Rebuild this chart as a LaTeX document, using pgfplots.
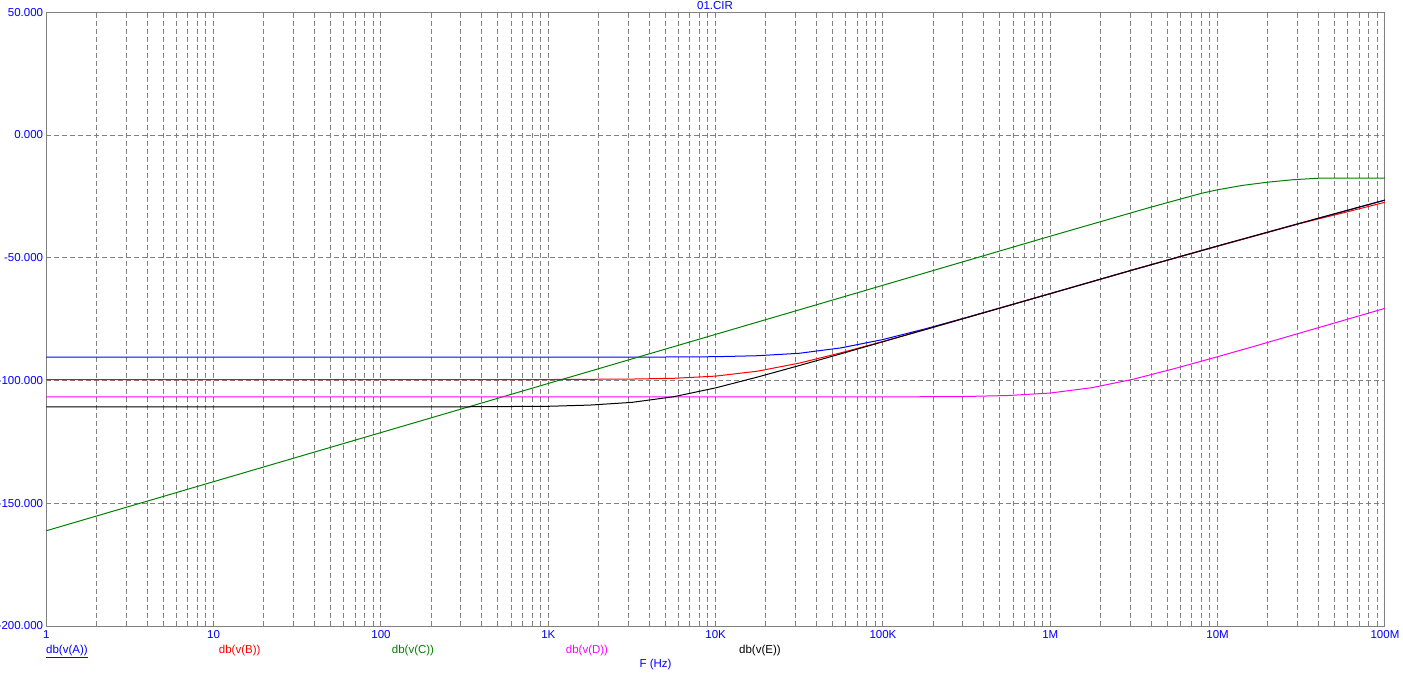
\documentclass[border=0pt]{standalone}
\usepackage{fontspec}
\setmainfont{Liberation Sans}
\usepackage{pgfplots}
\pgfplotsset{compat=1.18}
\definecolor{mcblue}{RGB}{0,0,255}
\definecolor{mcred}{RGB}{255,0,0}
\definecolor{mcgreen}{RGB}{0,128,0}
\definecolor{mcmag}{RGB}{255,0,255}
\definecolor{mcgrid}{RGB}{128,128,128}
\newcommand{\fs}{\fontsize{11.5}{13}\selectfont}
\begin{document}
\begin{tikzpicture}[x=1pt,y=1pt]
\begin{axis}[
  at={(0,0)}, anchor=south west,
  scale only axis, width=1338.7pt, height=613.7pt,
  xmode=log, log basis x=10,
  xmin=1, xmax=1e8, ymin=-200, ymax=50,
  xtick={1,10,100,1000,1e4,1e5,1e6,1e7,1e8},
  xticklabels={1,10,100,1K,10K,100K,1M,10M,100M},
  minor xtick={2,3,4,5,6,7,8,9,20,30,40,50,60,70,80,90,200,300,400,500,600,700,800,900,2000,3000,4000,5000,6000,7000,8000,9000,2e4,3e4,4e4,5e4,6e4,7e4,8e4,9e4,2e5,3e5,4e5,5e5,6e5,7e5,8e5,9e5,2e6,3e6,4e6,5e6,6e6,7e6,8e6,9e6,2e7,3e7,4e7,5e7,6e7,7e7,8e7,9e7},
  ytick={-200,-150,-100,-50,0,50},
  yticklabels={-200.000,-150.000,-100.000,-50.000,0.000,50.000},
  major tick length=0pt, minor tick length=0pt,
  xmajorgrids, xminorgrids, ymajorgrids,
  grid style={mcgrid, line width=1pt, dash pattern=on 5pt off 3pt},
  major grid style={mcgrid, line width=1pt, dash pattern=on 5pt off 3pt},
  minor grid style={mcgrid, line width=1pt, dash pattern=on 5pt off 3pt},
  axis line style={mcgrid, line width=1pt},
  ticklabel style={font=\fs, text=mcblue, inner sep=0pt},
  xticklabel style={anchor=north, yshift=-4pt},
  yticklabel style={anchor=east, xshift=-3pt},
  every axis plot/.append style={line width=1pt, mark=none},
]
% db(v(A))
\addplot[mcblue] coordinates {(1,-90.5) (3162,-90.5) (5623,-90.4) (1e4,-90.3) (1.778e4,-89.9) (3.162e4,-88.9) (5.623e4,-86.7) (1e5,-83.3) (1.778e5,-79.0) (3.162e5,-74.3) (1e6,-64.6) (3.162e6,-54.8) (1e7,-45.2) (3.162e7,-35.8) (1e8,-26.5)};
% db(v(B))
\addplot[mcred] coordinates {(1,-99.6) (1000,-99.6) (3162,-99.4) (5623,-99.1) (1e4,-98.2) (1.778e4,-96.2) (3.162e4,-92.9) (5.623e4,-88.7) (1e5,-84.1) (1.778e5,-79.3) (3.162e5,-74.4) (1e6,-64.6) (3.162e6,-54.8) (1e7,-45.3) (3.162e7,-35.9) (5.623e7,-31.7) (1e8,-27.4)};
% db(v(C))
\addplot[mcgreen] coordinates {(1,-161.2) (10,-141.2) (100,-121.2) (1000,-101.2) (1e4,-81.2) (1e5,-61.2) (1e6,-41.2) (1.995e6,-35.3) (3.981e6,-29.4) (5.623e6,-26.6) (7.943e6,-23.8) (1e7,-22.3) (1.413e7,-20.5) (1.995e7,-19.2) (2.818e7,-18.2) (3.981e7,-17.6) (1e8,-17.5)};
% db(v(D))
\addplot[mcmag] coordinates {(1,-106.7) (1e5,-106.7) (3.162e5,-106.5) (5.623e5,-106.1) (1e6,-105.1) (1.778e6,-102.9) (3.162e6,-99.4) (5.623e6,-95.0) (1e7,-90.3) (1.778e7,-85.45) (3.162e7,-80.5) (5.623e7,-75.55) (1e8,-70.6)};
% db(v(E))
\addplot[black] coordinates {(1,-110.7) (316.2,-110.7) (1000,-110.5) (1778,-110.0) (3162,-108.9) (5623,-106.6) (1e4,-103.0) (1.778e4,-98.6) (3.162e4,-93.9) (5.623e4,-89.1) (1e5,-84.2) (3.162e5,-74.4) (1e6,-64.6) (3.162e6,-54.8) (1e7,-45.2) (3.162e7,-35.8) (1e8,-26.5)};
\end{axis}
\node[font=\fs, text=mcblue, inner sep=0pt] at (668.7,620.5) {01.CIR};
\node[font=\fs, text=mcblue, anchor=north west, inner sep=0pt] at (-0.3,-19) {\underline{db(v(A))}};
\node[font=\fs, text=mcred, anchor=north west, inner sep=0pt] at (172.4,-19) {db(v(B))};
\node[font=\fs, text=mcgreen, anchor=north west, inner sep=0pt] at (345.4,-19) {db(v(C))};
\node[font=\fs, text=mcmag, anchor=north west, inner sep=0pt] at (519.4,-19) {db(v(D))};
\node[font=\fs, text=black, anchor=north west, inner sep=0pt] at (692.7,-19) {db(v(E))};
\node[font=\fs, text=mcblue, inner sep=0pt] at (609.2,-38.5) {F (Hz)};
\pgfresetboundingbox
\useasboundingbox (-46.3,-49) rectangle (1356.7,626);
\end{tikzpicture}
\end{document}
